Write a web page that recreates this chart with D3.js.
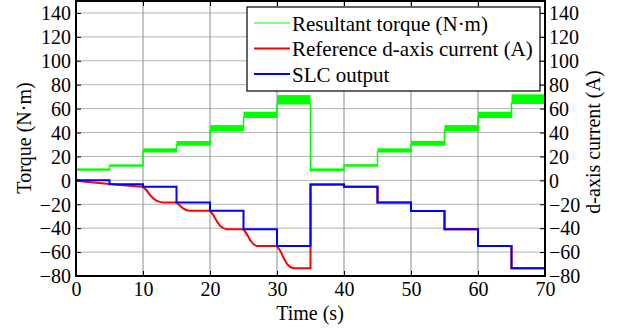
<!DOCTYPE html>
<html>
<head>
<meta charset="utf-8">
<script src="https://cdn.jsdelivr.net/npm/d3@7"></script>
<style>
  html, body { margin: 0; padding: 0; background: #fff; }
  svg text { font-family: "Liberation Serif", "Times New Roman", serif; fill: #000; }
</style>
</head>
<body>
<svg id="chart" width="617" height="328"></svg>
<script>
// ---- data ----
const stepTimes = [0, 5, 10, 15, 20, 25, 30, 35, 40, 45, 50, 55, 60, 65, 70];
const torqueLow  = [8.6, 12, 24, 29.5, 41.5, 52.7, 64, 8.3, 12, 24, 29.5, 41.5, 52.7, 64.4];
const torqueHigh = [10, 13.4, 26.8, 32.9, 46.2, 57.4, 71.3, 10, 13.5, 26.8, 33, 46.2, 57.4, 71.9];
const slcOutput  = [0, -3.2, -5.3, -18.5, -25.5, -41, -55, -3.4, -5.3, -18.5, -25.6, -41, -55, -73.5];
const refTime = [0, 1, 3, 5, 7, 8, 10, 10.5, 11, 11.5, 12, 12.5, 13, 15, 15.5, 16, 16.5, 17, 20, 20.5, 21, 21.5, 22, 22.5,
  25, 25.5, 26, 26.5, 27, 30, 30.5, 31, 31.5, 32, 32.5, 35, 35, 40, 40, 45, 45, 50, 50, 55, 55, 60, 60, 65, 65, 70];
const refCurrent = [0, -1, -2, -3, -4, -4.5, -5.3, -8, -12, -15, -17, -18, -18.5, -18.5, -21, -23.5, -25, -25.5, -25.5, -29, -34, -38, -40, -41,
  -41, -45, -50, -53.5, -55, -55, -59, -65, -70, -72.5, -73.5, -73.5, -3.4, -3.4, -5.3, -5.3, -18.5, -18.5, -25.6, -25.6, -41, -41, -55, -55, -73.5, -73.5];
const xTicks = [0, 10, 20, 30, 40, 50, 60, 70];
const yTicks = [-80, -60, -40, -20, 0, 20, 40, 60, 80, 100, 120, 140];
const legendLabels = ["Resultant torque (N\u00b7m)", "Reference d-axis current (A)", "SLC output"];
const seriesColors = ["#00ff00", "#ff0000", "#0000ff"];

// ---- layout ----
const L = 76, R = 545, T = 1, B = 276;
const svg = d3.select("#chart");
const x = d3.scaleLinear().domain([0, 70]).range([L, R]);
const y = d3.scaleLinear().domain([-80, 150]).range([B, T]);

// grid
const grid = svg.append("g");
grid.selectAll("line.h").data(yTicks).join("line")
  .attr("x1", L).attr("x2", R).attr("y1", d => y(d)).attr("y2", d => y(d))
  .attr("stroke", "#b4b4b4").attr("stroke-width", 1);
grid.selectAll("line.v").data(xTicks.slice(1, -1)).join("line")
  .attr("x1", d => x(d)).attr("x2", d => x(d)).attr("y1", T).attr("y2", B)
  .attr("stroke", "#8c8c8c").attr("stroke-width", 1);

// green torque band
const segs = torqueLow.map((lo, i) => ({t0: stepTimes[i], t1: stepTimes[i + 1], lo, hi: torqueHigh[i]}));
svg.append("g").selectAll("rect").data(segs).join("rect")
  .attr("x", d => x(d.t0)).attr("width", d => x(d.t1) - x(d.t0))
  .attr("y", d => y(d.hi)).attr("height", d => y(d.lo) - y(d.hi))
  .attr("fill", seriesColors[0]);
const greenPts = [[0, 0]];
segs.forEach(s => { greenPts.push([s.t0, s.lo]); greenPts.push([s.t1, s.lo]); });
greenPts.push([70, 0]);
const line = d3.line().x(d => x(d[0])).y(d => y(d[1]));
svg.append("path").attr("d", line(greenPts)).attr("fill", "none")
  .attr("stroke", seriesColors[0]).attr("stroke-width", 1.5);

// red reference current
svg.append("path").attr("d", line(refTime.map((t, i) => [t, refCurrent[i]])))
  .attr("fill", "none").attr("stroke", seriesColors[1]).attr("stroke-width", 2);

// blue SLC output (step)
const bluePts = [];
slcOutput.forEach((v, i) => { bluePts.push([stepTimes[i], v]); bluePts.push([stepTimes[i + 1], v]); });
bluePts.push([70, 0]);
svg.append("path").attr("d", line(bluePts)).attr("fill", "none")
  .attr("stroke", seriesColors[2]).attr("stroke-width", 2);

// axes
const fs = 20;
const gl = svg.append("g").attr("transform", `translate(${L},0)`)
  .call(d3.axisLeft(y).tickValues(yTicks).tickSize(-5).tickPadding(5).tickFormat(d3.format("d")));
const gr = svg.append("g").attr("transform", `translate(${R},0)`)
  .call(d3.axisRight(y).tickValues(yTicks).tickSize(-5).tickPadding(4).tickFormat(d3.format("d")));
const gb = svg.append("g").attr("transform", `translate(0,${B})`)
  .call(d3.axisBottom(x).tickValues(xTicks).tickSize(-5).tickPadding(4));
const gt = svg.append("g").attr("transform", `translate(0,${T})`)
  .call(d3.axisTop(x).tickValues(xTicks).tickSize(-5).tickFormat(""));
[gl, gr, gb, gt].forEach(g => {
  g.select(".domain").remove();
  g.selectAll(".tick line").attr("stroke", "#000").attr("stroke-width", 1);
  g.selectAll("text").style("font-size", fs + "px").style("font-family", "Liberation Serif").attr("fill", "#000");
});
gl.selectAll("text").attr("dy", "0.34em");
gr.selectAll("text").attr("dy", "0.34em");
gb.selectAll("text").attr("dy", "0.78em");

// frame
svg.append("rect").attr("x", L).attr("y", T).attr("width", R - L).attr("height", B - T)
  .attr("fill", "none").attr("stroke", "#000").attr("stroke-width", 2);

// axis titles
svg.append("text").attr("transform", "translate(31,138) rotate(-90)")
  .attr("text-anchor", "middle").style("font-size", "20px").text("Torque (N\u00b7m)");
svg.append("text").attr("transform", "translate(600,142) rotate(-90)")
  .attr("text-anchor", "middle").style("font-size", "20px").text("d-axis current (A)");
svg.append("text").attr("x", 310).attr("y", 320)
  .attr("text-anchor", "middle").style("font-size", "20px").text("Time (s)");

// legend
const lg = svg.append("g");
lg.append("rect").attr("x", 247).attr("y", 7).attr("width", 293).attr("height", 84)
  .attr("fill", "#fff").attr("stroke", "#000").attr("stroke-width", 1.2);
const baselines = [30.5, 56, 81.5];
legendLabels.forEach((lab, i) => {
  lg.append("line").attr("x1", 254).attr("x2", 290)
    .attr("y1", baselines[i] - 7.5).attr("y2", baselines[i] - 7.5)
    .attr("stroke", seriesColors[i]).attr("stroke-width", i === 0 ? 1 : 2);
  lg.append("text").attr("x", 292).attr("y", baselines[i])
    .style("font-size", "21px").text(lab);
});
</script>
</body>
</html>
